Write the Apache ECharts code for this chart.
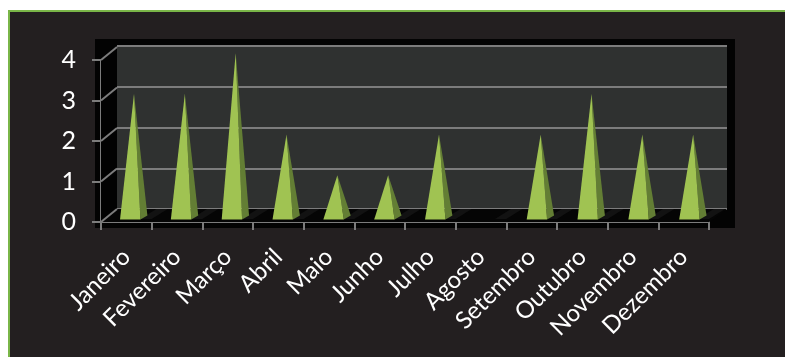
<!DOCTYPE html>
<html>
<head>
<meta charset="utf-8">
<style>html,body{margin:0;padding:0;background:#fff}#chart{width:785px;height:357px}</style>
<script src="https://cdn.jsdelivr.net/npm/echarts@6/dist/echarts.min.js"></script>
</head>
<body>
<div id="chart"></div>
<script>
const months = ['Janeiro','Fevereiro','Março','Abril','Maio','Junho','Julho','Agosto','Setembro','Outubro','Novembro','Dezembro'];
const counts = [3,3,4,2,1,1,2,0,2,3,2,2];
const yTicks = [0,1,2,3,4];

const GREY = '#7c7c7c';
const DEPTH_LEFT = 16, DEPTH_RIGHT = 18, DEPTH_Y = -13;

// Side wall, floor and the oblique tick connectors between front axis and back wall
function renderFrame(params, api) {
  if (params.dataIndex !== 0) return null;
  const children = [];
  const halfBand = api.size([1, 0])[0] / 2;
  const left = api.coord([0, 0])[0] - halfBand;
  const right = api.coord([months.length - 1, 0])[0] + halfBand;
  const base = api.coord([0, 0])[1];
  const top = api.coord([0, 4])[1];
  const backY = base + DEPTH_Y;
  children.push({type:'polygon', z2:1, shape:{points:[[left,base],[right,base],[right+DEPTH_RIGHT,backY],[left+DEPTH_LEFT,backY]]}, style:{fill:'#050505'}});
  months.forEach((m, i) => {
    const cx = api.coord([i, 0])[0];
    const a = cx + 14, b = cx + 25.3;
    children.push({type:'polygon', z2:2, shape:{points:[[a,base-3],[b,base-3],[b+DEPTH_LEFT,backY],[a+DEPTH_LEFT,backY]]}, style:{fill:'#121212'}});
  });
  children.push({type:'polygon', z2:1, shape:{points:[[left,base],[left,top],[left+DEPTH_LEFT,top+DEPTH_Y],[left+DEPTH_LEFT,backY]]}, style:{fill:'#020202'}});
  yTicks.forEach(v => {
    const y = api.coord([0, v])[1];
    children.push({type:'line', z2:3, shape:{x1:left,y1:y,x2:left+DEPTH_LEFT,y2:y+DEPTH_Y}, style:{stroke:GREY,lineWidth:2}});
  });
  return {type:'group', children};
}

// One four-sided spike standing on the back-wall scale: lit front face and shaded right face
function renderPyramid(params, api) {
  const idx = api.value(0), v = api.value(1);
  if (!v) return null;
  const [cx, y0] = api.coord([idx, 0]);
  const yv = api.coord([idx, v])[1];
  const apex = [cx - 8.4, yv + 7];
  const fl = [cx - 22.4, y0 + 10.4], fr = [cx - 2, y0 + 10.4], br = [cx + 5, y0 + 6.4];
  return {type:'group', children:[
    {type:'polygon', shape:{points:[fr,br,apex]}, style:{fill:'#637e34'}},
    {type:'polygon', shape:{points:[fl,fr,apex]}, style:{fill:'#a0c352'}}
  ]};
}

const chart = echarts.init(document.getElementById('chart'), null, {renderer:'canvas'});
chart.setOption({
  animation:false,
  backgroundColor:'#ffffff',
  graphic:[
    {type:'rect', z:-20, shape:{x:9,y:11,width:800,height:370}, style:{fill:'#231f20',stroke:'#7ab648',lineWidth:2}},
    {type:'rect', z:-19, shape:{x:95,y:39,width:640,height:189}, style:{fill:'#030303'}}
  ],
  grid:[
    {left:117,right:58,top:46,bottom:148,show:true,backgroundColor:'#2f3130',borderWidth:0,z:0},
    {left:101,right:76,top:60,bottom:135,z:2}
  ],
  xAxis:[
    {gridIndex:0,type:'category',data:months,show:false},
    {gridIndex:1,type:'category',data:months,
     axisLine:{show:true,onZero:false,lineStyle:{color:GREY,width:2}},
     axisTick:{show:true,alignWithLabel:false,length:8,lineStyle:{color:GREY,width:2}},
     axisLabel:{color:'#ffffff',fontFamily:'Lato',fontSize:24,rotate:45,interval:0,margin:31}}
  ],
  yAxis:[
    {gridIndex:0,type:'value',min:0,max:4,interval:1,axisLine:{show:false},axisTick:{show:false},axisLabel:{show:false},
     splitLine:{show:true,lineStyle:{color:GREY,width:2}}},
    {gridIndex:1,type:'value',min:0,max:4,interval:1,
     axisLine:{show:true,lineStyle:{color:GREY,width:2}},
     axisTick:{show:true,length:9,lineStyle:{color:GREY,width:2}},
     axisLabel:{color:'#ffffff',fontFamily:'Lato',fontSize:25,margin:25,padding:[8,0,0,0]},
     splitLine:{show:false}}
  ],
  series:[
    {type:'custom',xAxisIndex:1,yAxisIndex:1,z:1,renderItem:renderFrame,data:months.map((m,i)=>[i,0]),clip:false,silent:true},
    {type:'custom',xAxisIndex:0,yAxisIndex:0,z:5,renderItem:renderPyramid,encode:{x:0,y:1},data:counts.map((c,i)=>[i,c]),clip:false}
  ]
});
</script>
</body>
</html>
